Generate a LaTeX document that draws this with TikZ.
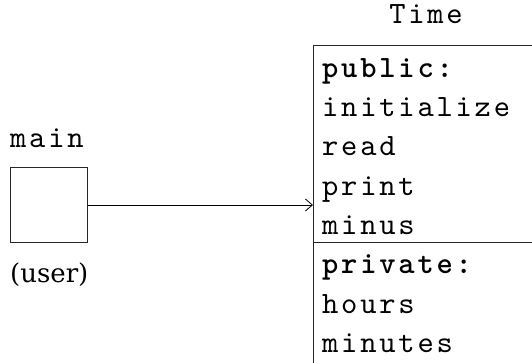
\documentclass[tikz,border=0pt]{standalone}
\usepackage{fontspec}
\usetikzlibrary{arrows.meta}
\newfontfamily\cmono{lmmono10-regular.otf}[LetterSpace=9, BoldFont=lmmonolt10-bold.otf]
\newfontfamily\cserif{DejaVu Serif}
\tikzset{
  mono/.style={font=\cmono\fontsize{31}{35}\selectfont, inner sep=0pt, anchor=base west},
  monobold/.style={mono, font=\cmono\bfseries\fontsize{31}{35}\selectfont},
  serif/.style={font=\cserif\fontsize{26}{30}\selectfont, inner sep=0pt, anchor=base west},
  frame/.style={draw=black!85, line width=1pt},
}
\begin{document}
\begin{tikzpicture}[x=1pt,y=-1pt]
\useasboundingbox (0,0) rectangle (532,362);
\clip (0,0) rectangle (532,362);
% class box
\node[frame, anchor=north west, minimum width=240pt, minimum height=340pt, inner sep=0pt] (timebox) at (313,45) {};
\coordinate (midl) at (313,242);
\draw[frame] (midl) -- (midl -| timebox.east);
\node[mono, anchor=base] (time) at (426,23) {Time};
\node[monobold] (pub) at (322,77) {public:};
\node[mono] (init) at (322,116) {initialize};
\node[mono] (read) at (322,155) {read};
\node[mono] (print) at (322,195) {print};
\node[mono] (minus) at (322,234) {minus};
\node[monobold] (priv) at (322,273) {private:};
\node[mono] (hours) at (322,313) {hours};
\node[mono] (minutes) at (322,352) {minutes};
% main
\node[mono] (mainlbl) at (10,147) {main};
\node[frame, anchor=north west, minimum width=77pt, minimum height=75pt, inner sep=0pt] (main) at (10,167) {};
\node[serif] (user) at (10,282) {(user)};
\draw[line width=0.9pt, -{Straight Barb[length=7pt,width=12pt,line width=0.8pt]}] (main.east) -- (main.east -| timebox.west);
\end{tikzpicture}
\end{document}
